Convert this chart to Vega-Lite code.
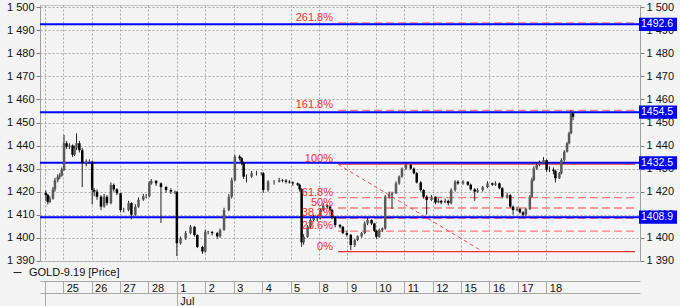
{
  "$schema": "https://vega.github.io/schema/vega-lite/v6.json",
  "width": 600,
  "height": 256,
  "autosize": {"type": "none"},
  "padding": {"left": 40, "top": 5, "right": 40, "bottom": 45},
  "background": "#f4f4f4",
  "config": {
    "view": {"stroke": "#c4c4c4", "fill": "#f4f4f4"},
    "font": "Liberation Sans",
    "axis": {"labelFont": "Liberation Sans", "labelFontSize": 11, "labelColor": "#111111"}
  },
  "datasets": {
    "bars": [
      {"t":0.39,"o":1419.5,"h":1420.5,"l":1416,"c":1418.5},
      {"t":0.46,"o":1418.5,"h":1419,"l":1414.5,"c":1415.5},
      {"t":0.53,"o":1415.5,"h":1418,"l":1415,"c":1417},
      {"t":0.64,"o":1417,"h":1422,"l":1416.5,"c":1421},
      {"t":0.71,"o":1421,"h":1426,"l":1420,"c":1425},
      {"t":0.81,"o":1425,"h":1427.5,"l":1424,"c":1426.5},
      {"t":0.88,"o":1426.5,"h":1428,"l":1425.5,"c":1427},
      {"t":0.95,"o":1427,"h":1430.5,"l":1426.5,"c":1429.4},
      {"t":1.03,"o":1429.4,"h":1444.6,"l":1429,"c":1441},
      {"t":1.12,"o":1441,"h":1442,"l":1438.5,"c":1439.5},
      {"t":1.22,"o":1439.5,"h":1441,"l":1438.5,"c":1440},
      {"t":1.33,"o":1440,"h":1440.5,"l":1435,"c":1436},
      {"t":1.40,"o":1436,"h":1440,"l":1435.5,"c":1439},
      {"t":1.47,"o":1439,"h":1445.3,"l":1438,"c":1441},
      {"t":1.57,"o":1441,"h":1442,"l":1437,"c":1438},
      {"t":1.67,"o":1438,"h":1439,"l":1422,"c":1432.4},
      {"t":1.81,"o":1432.4,"h":1434,"l":1431,"c":1433},
      {"t":1.92,"o":1433,"h":1434,"l":1432,"c":1433},
      {"t":2.02,"o":1433,"h":1433.5,"l":1414.5,"c":1420.7},
      {"t":2.09,"o":1420.7,"h":1421.5,"l":1418,"c":1420},
      {"t":2.19,"o":1420,"h":1421,"l":1416.5,"c":1417.8},
      {"t":2.33,"o":1417.8,"h":1418.5,"l":1412,"c":1413.5},
      {"t":2.44,"o":1413.5,"h":1419,"l":1413,"c":1417.8},
      {"t":2.54,"o":1417.8,"h":1418.5,"l":1414,"c":1415},
      {"t":2.68,"o":1415,"h":1424,"l":1414.5,"c":1422.9},
      {"t":2.78,"o":1422.9,"h":1423.5,"l":1420,"c":1421},
      {"t":2.89,"o":1421,"h":1421.5,"l":1418.5,"c":1419.3},
      {"t":3.02,"o":1419.3,"h":1419.5,"l":1411,"c":1412},
      {"t":3.13,"o":1412,"h":1413,"l":1411,"c":1412},
      {"t":3.30,"o":1412,"h":1416,"l":1411.5,"c":1415},
      {"t":3.40,"o":1415,"h":1415.5,"l":1408,"c":1410},
      {"t":3.54,"o":1410,"h":1414.5,"l":1409.5,"c":1413.5},
      {"t":3.65,"o":1413.5,"h":1417.5,"l":1413,"c":1416.5},
      {"t":3.82,"o":1416.5,"h":1419,"l":1416,"c":1418},
      {"t":3.92,"o":1418,"h":1419,"l":1417,"c":1418},
      {"t":4.03,"o":1418,"h":1424.5,"l":1417.5,"c":1423.6},
      {"t":4.10,"o":1423.6,"h":1425.5,"l":1423,"c":1424.7},
      {"t":4.27,"o":1424.7,"h":1425,"l":1422.5,"c":1423.6},
      {"t":4.44,"o":1423.6,"h":1424,"l":1406.4,"c":1422},
      {"t":4.62,"o":1422,"h":1422.5,"l":1419.5,"c":1420.7},
      {"t":4.79,"o":1420.7,"h":1421.5,"l":1419,"c":1420},
      {"t":4.93,"o":1420,"h":1420.5,"l":1419,"c":1420},
      {"t":5.00,"o":1420,"h":1420,"l":1392,"c":1397.6},
      {"t":5.13,"o":1397.6,"h":1400.5,"l":1397,"c":1399.8},
      {"t":5.31,"o":1399.8,"h":1403,"l":1399,"c":1402},
      {"t":5.48,"o":1402,"h":1405.5,"l":1401.5,"c":1404.8},
      {"t":5.62,"o":1404.8,"h":1405,"l":1400.5,"c":1401.2},
      {"t":5.72,"o":1401.2,"h":1401.5,"l":1395.5,"c":1396},
      {"t":5.90,"o":1396,"h":1396.5,"l":1393,"c":1394},
      {"t":6.00,"o":1394,"h":1403.5,"l":1393.5,"c":1402.6},
      {"t":6.10,"o":1402.6,"h":1403,"l":1401.5,"c":1402.5},
      {"t":6.24,"o":1402.5,"h":1403,"l":1401,"c":1402},
      {"t":6.42,"o":1402,"h":1402.5,"l":1399.5,"c":1400.6},
      {"t":6.52,"o":1400.6,"h":1404,"l":1400,"c":1403.3},
      {"t":6.66,"o":1403.3,"h":1413,"l":1403,"c":1412},
      {"t":6.83,"o":1412,"h":1419,"l":1411.5,"c":1417.8},
      {"t":6.93,"o":1417.8,"h":1426,"l":1417,"c":1425},
      {"t":7.04,"o":1425,"h":1436,"l":1424.5,"c":1435.2},
      {"t":7.21,"o":1435.2,"h":1436,"l":1433.5,"c":1434.5},
      {"t":7.28,"o":1434.5,"h":1435,"l":1431.5,"c":1432.5},
      {"t":7.35,"o":1432.5,"h":1433,"l":1425.5,"c":1426.5},
      {"t":7.45,"o":1426.5,"h":1427.5,"l":1424,"c":1426.5},
      {"t":7.63,"o":1426.5,"h":1429,"l":1426,"c":1428},
      {"t":7.80,"o":1428,"h":1429,"l":1427,"c":1428},
      {"t":7.97,"o":1428,"h":1428.5,"l":1427,"c":1428},
      {"t":8.04,"o":1428,"h":1428.5,"l":1419.5,"c":1420.7},
      {"t":8.21,"o":1420.7,"h":1425,"l":1420,"c":1424.3},
      {"t":8.42,"o":1424.3,"h":1425,"l":1423,"c":1424.3},
      {"t":8.60,"o":1424.3,"h":1426,"l":1424,"c":1425},
      {"t":8.72,"o":1425,"h":1425.5,"l":1424,"c":1424.8},
      {"t":8.84,"o":1424.8,"h":1425.5,"l":1423.5,"c":1424.3},
      {"t":8.96,"o":1424.3,"h":1425,"l":1423.5,"c":1424},
      {"t":9.08,"o":1424,"h":1424.5,"l":1422.5,"c":1423.6},
      {"t":9.25,"o":1423.6,"h":1424,"l":1422.5,"c":1423},
      {"t":9.32,"o":1423,"h":1423.5,"l":1420,"c":1421},
      {"t":9.39,"o":1421,"h":1421.5,"l":1396,"c":1398},
      {"t":9.46,"o":1398,"h":1401.5,"l":1397,"c":1400.4},
      {"t":9.60,"o":1400.4,"h":1405.5,"l":1400,"c":1404.8},
      {"t":9.70,"o":1404.8,"h":1408.5,"l":1404,"c":1407.7},
      {"t":9.81,"o":1407.7,"h":1410,"l":1407,"c":1408.5},
      {"t":9.94,"o":1408.5,"h":1409.5,"l":1407,"c":1408.5},
      {"t":10.05,"o":1408.5,"h":1412.5,"l":1408,"c":1412},
      {"t":10.15,"o":1412,"h":1415,"l":1411.5,"c":1414},
      {"t":10.29,"o":1414,"h":1414.5,"l":1412.5,"c":1413.5},
      {"t":10.39,"o":1413.5,"h":1414,"l":1411.5,"c":1412},
      {"t":10.46,"o":1412,"h":1412.5,"l":1408,"c":1408.9},
      {"t":10.57,"o":1408.9,"h":1409.5,"l":1404.5,"c":1405.5},
      {"t":10.74,"o":1405.5,"h":1406,"l":1404,"c":1404.8},
      {"t":10.84,"o":1404.8,"h":1405,"l":1401.5,"c":1402},
      {"t":10.98,"o":1402,"h":1403,"l":1400.5,"c":1401.3},
      {"t":11.12,"o":1401.3,"h":1401.5,"l":1394.6,"c":1396.8},
      {"t":11.26,"o":1396.8,"h":1399.5,"l":1396,"c":1399},
      {"t":11.36,"o":1399,"h":1401,"l":1398.5,"c":1400.6},
      {"t":11.50,"o":1400.6,"h":1402.5,"l":1400,"c":1402},
      {"t":11.61,"o":1402,"h":1407,"l":1401.5,"c":1406.2},
      {"t":11.71,"o":1406.2,"h":1408.5,"l":1405.5,"c":1407.7},
      {"t":11.85,"o":1407.7,"h":1408,"l":1405.5,"c":1406.2},
      {"t":11.95,"o":1406.2,"h":1406.5,"l":1402.5,"c":1403},
      {"t":12.02,"o":1403,"h":1403.5,"l":1399.5,"c":1400.4},
      {"t":12.12,"o":1400.4,"h":1404,"l":1400,"c":1403.3},
      {"t":12.23,"o":1403.3,"h":1404.5,"l":1402.5,"c":1404},
      {"t":12.33,"o":1404,"h":1418.5,"l":1403.5,"c":1417.8},
      {"t":12.47,"o":1417.8,"h":1420,"l":1417,"c":1418.5},
      {"t":12.57,"o":1418.5,"h":1420,"l":1412.5,"c":1419.3},
      {"t":12.71,"o":1419.3,"h":1424.5,"l":1419,"c":1423.6},
      {"t":12.82,"o":1423.6,"h":1427,"l":1423,"c":1426.5},
      {"t":12.92,"o":1426.5,"h":1430.5,"l":1426,"c":1430},
      {"t":13.06,"o":1430,"h":1432.3,"l":1429.5,"c":1431.6},
      {"t":13.23,"o":1431.6,"h":1432,"l":1429.5,"c":1430},
      {"t":13.34,"o":1430,"h":1430.5,"l":1427.5,"c":1428},
      {"t":13.44,"o":1428,"h":1428.5,"l":1423.5,"c":1424},
      {"t":13.58,"o":1424,"h":1424.5,"l":1420,"c":1420.7},
      {"t":13.68,"o":1420.7,"h":1421,"l":1417,"c":1417.8},
      {"t":13.79,"o":1417.8,"h":1418.5,"l":1410,"c":1416.4},
      {"t":13.96,"o":1416.4,"h":1418.5,"l":1416,"c":1417.8},
      {"t":14.10,"o":1417.8,"h":1418,"l":1414.5,"c":1415.3},
      {"t":14.20,"o":1415.3,"h":1417,"l":1415,"c":1416},
      {"t":14.30,"o":1416,"h":1416.5,"l":1414.5,"c":1415.3},
      {"t":14.44,"o":1415.3,"h":1417,"l":1415,"c":1416},
      {"t":14.55,"o":1416,"h":1416.5,"l":1414,"c":1415},
      {"t":14.65,"o":1415,"h":1421.5,"l":1414.5,"c":1420.7},
      {"t":14.79,"o":1420.7,"h":1425,"l":1420,"c":1424.3},
      {"t":14.89,"o":1424.3,"h":1425,"l":1423,"c":1423.6},
      {"t":15.07,"o":1423.6,"h":1425,"l":1423,"c":1424.3},
      {"t":15.24,"o":1424.3,"h":1424.5,"l":1422.5,"c":1423},
      {"t":15.34,"o":1423,"h":1423.5,"l":1420.5,"c":1421},
      {"t":15.48,"o":1421,"h":1421.5,"l":1416,"c":1420},
      {"t":15.58,"o":1420,"h":1421.5,"l":1419.5,"c":1420.7},
      {"t":15.76,"o":1420.7,"h":1422.5,"l":1420,"c":1422},
      {"t":15.93,"o":1422,"h":1424.5,"l":1421.5,"c":1423.6},
      {"t":16.10,"o":1423.6,"h":1424,"l":1422.5,"c":1423},
      {"t":16.21,"o":1423,"h":1424.5,"l":1422.5,"c":1423.6},
      {"t":16.35,"o":1423.6,"h":1424,"l":1421,"c":1421.5},
      {"t":16.45,"o":1421.5,"h":1422,"l":1417,"c":1417.8},
      {"t":16.62,"o":1417.8,"h":1419.5,"l":1417,"c":1418.5},
      {"t":16.73,"o":1418.5,"h":1419,"l":1413,"c":1413.5},
      {"t":16.83,"o":1413.5,"h":1414,"l":1410,"c":1412},
      {"t":16.97,"o":1412,"h":1413.5,"l":1411.5,"c":1412.5},
      {"t":17.07,"o":1412.5,"h":1413,"l":1410.5,"c":1411},
      {"t":17.18,"o":1411,"h":1411.5,"l":1409,"c":1410},
      {"t":17.28,"o":1410,"h":1413,"l":1409.5,"c":1412.5},
      {"t":17.42,"o":1412.5,"h":1418.5,"l":1412,"c":1417.8},
      {"t":17.49,"o":1417.8,"h":1426,"l":1417.5,"c":1425},
      {"t":17.56,"o":1425,"h":1431,"l":1424.5,"c":1430},
      {"t":17.66,"o":1430,"h":1432.5,"l":1429.5,"c":1431.6},
      {"t":17.76,"o":1431.6,"h":1433.5,"l":1431,"c":1432.5},
      {"t":17.90,"o":1432.5,"h":1435,"l":1432,"c":1433.7},
      {"t":18.01,"o":1433.7,"h":1434,"l":1428.5,"c":1429.5},
      {"t":18.11,"o":1429.5,"h":1431,"l":1428.5,"c":1429.5},
      {"t":18.25,"o":1429.5,"h":1430.5,"l":1427.5,"c":1429},
      {"t":18.32,"o":1429,"h":1429.5,"l":1424,"c":1425.8},
      {"t":18.46,"o":1425.8,"h":1428.5,"l":1425.5,"c":1428},
      {"t":18.53,"o":1428,"h":1434.5,"l":1427.5,"c":1433.7},
      {"t":18.63,"o":1433.7,"h":1438,"l":1433,"c":1437.3},
      {"t":18.73,"o":1437.3,"h":1441.5,"l":1437,"c":1441},
      {"t":18.80,"o":1441,"h":1446,"l":1440.5,"c":1445.3},
      {"t":18.87,"o":1445.3,"h":1455.4,"l":1445,"c":1454},
      {"t":18.94,"o":1454,"h":1454.5,"l":1451,"c":1452.5}
    ],
    "fib": [
      {"pct":0,"label":"0%","v":1394.0},
      {"pct":23.6,"label":"23.6%","v":1402.9},
      {"pct":38.2,"label":"38.2%","v":1408.4},
      {"pct":50,"label":"50%","v":1412.9},
      {"pct":61.8,"label":"61.8%","v":1417.4},
      {"pct":100,"label":"100%","v":1431.9},
      {"pct":161.8,"label":"161.8%","v":1455.3},
      {"pct":261.8,"label":"261.8%","v":1493.2}
    ],
    "levels": [
      {"v":1492.6},
      {"v":1454.5},
      {"v":1432.5},
      {"v":1408.9}
    ],
    "trend": [
      {"t0":10.67,"v0":1431.9,"t1":15.76,"v1":1394.0}
    ]
  },
  "layer": [
    {
      "data": {"name": "fib"},
      "mark": {"type": "rule", "strokeWidth": 1.3},
      "encoding": {
        "x": {"datum": 10.67, "type": "quantitative", "scale": {"domain": [0.36, 21.12], "nice": false, "zero": false}, "axis": null},
        "x2": {"datum": 21.12},
        "y": {"field": "v", "type": "quantitative", "scale": {"domain": [1389.9, 1501], "nice": false, "zero": false}, "axis": null},
        "color": {"condition": {"test": "datum.pct == 0 || datum.pct == 100", "value": "#f03030"}, "value": "#ff7a7a"},
        "strokeDash": {"condition": {"test": "datum.pct == 0 || datum.pct == 100", "value": [1, 0]}, "value": [8, 4]}
      }
    },
    {
      "data": {"name": "trend"},
      "mark": {"type": "rule", "strokeWidth": 1, "color": "#f05050", "strokeDash": [4, 3]},
      "encoding": {
        "x": {"field": "t0", "type": "quantitative", "scale": {"domain": [0.36, 21.12], "nice": false, "zero": false}, "axis": null},
        "x2": {"field": "t1"},
        "y": {"field": "v0", "type": "quantitative", "scale": {"domain": [1389.9, 1501], "nice": false, "zero": false}, "axis": null},
        "y2": {"field": "v1"}
      }
    },
    {
      "data": {"name": "levels"},
      "mark": {"type": "rule", "color": "#0000ff", "strokeWidth": 2},
      "encoding": {
        "y": {"field": "v", "type": "quantitative", "scale": {"domain": [1389.9, 1501], "nice": false, "zero": false}, "axis": null}
      }
    },
    {
      "data": {"name": "bars"},
      "mark": {"type": "rule", "strokeWidth": 1},
      "encoding": {
        "x": {"field": "t", "type": "quantitative", "scale": {"domain": [0.36, 21.12], "nice": false, "zero": false},
          "axis": {"orient": "bottom", "offset": 20, "values": [0.36,1,2,3,4,5,6,7,8,9,10,11,12,13,14,15,16,17,18],
            "grid": true, "gridColor": "#a8a8a8", "gridDash": [2, 2],
            "domainColor": "#a8a8a8", "tickColor": "#a8a8a8", "tickSize": 12,
            "labelAlign": "left", "labelBaseline": "top", "labelPadding": -11, "labelOffset": 3,
            "labelFlush": false, "labelOverlap": false, "labelBound": false,
            "labelExpr": "datum.value < 1 ? '' : ['24','25','26','27','28','1','2','3','4','5','8','9','10','11','12','15','16','17','18'][datum.value]",
            "title": null}},
        "y": {"field": "l", "type": "quantitative", "scale": {"domain": [1389.9, 1501], "nice": false, "zero": false},
          "axis": {"orient": "left", "values": [1390,1400,1410,1420,1430,1440,1450,1460,1470,1480,1490,1500],
            "grid": true, "gridColor": "#a8a8a8", "gridDash": [2, 2], "tickSize": 4, "tickColor": "#808080",
            "domainColor": "#a0a0a0", "labelPadding": 2,
            "labelExpr": "replace(format(datum.value, ','), ',', ' ')", "title": null}},
        "y2": {"field": "h"},
        "color": {"datum": "GOLD-9.19 [Price]", "type": "nominal", "scale": {"range": ["#222222"]},
          "legend": {"orient": "none", "legendX": -28, "legendY": 262, "title": null, "symbolType": "stroke",
            "symbolSize": 64, "symbolStrokeWidth": 1, "labelFontSize": 11, "labelFont": "Liberation Sans",
            "labelColor": "#111111", "padding": 0, "labelOffset": 6}}
      }
    },
    {
      "data": {"name": "bars"},
      "mark": {"type": "bar", "width": 2.5},
      "encoding": {
        "x": {"field": "t", "type": "quantitative", "scale": {"domain": [0.36, 21.12], "nice": false, "zero": false},
          "axis": {"orient": "bottom", "offset": 32, "values": [0.36, 5], "grid": false,
            "domainColor": "#a8a8a8", "tickColor": "#a8a8a8", "tickSize": 13,
            "labelAlign": "left", "labelBaseline": "top", "labelPadding": -11, "labelOffset": 3,
            "labelFlush": false, "labelOverlap": false, "labelBound": false,
            "labelExpr": "datum.value == 5 ? 'Jul' : ''", "title": null}},
        "y": {"field": "o", "type": "quantitative", "scale": {"domain": [1389.9, 1501], "nice": false, "zero": false},
          "axis": {"orient": "right", "values": [1390,1400,1410,1420,1430,1440,1450,1460,1470,1480,1490,1500],
            "grid": false, "tickSize": 4, "tickColor": "#808080", "domainColor": "#a0a0a0", "labelPadding": 2,
            "labelExpr": "replace(format(datum.value, ','), ',', ' ')", "title": null}},
        "y2": {"field": "c"},
        "color": {"condition": {"test": "datum.c >= datum.o", "value": "#5a5a5a"}, "value": "#000000"}
      }
    },
    {
      "data": {"name": "fib"},
      "mark": {"type": "text", "align": "right", "baseline": "alphabetic", "dx": -5, "dy": -2, "fontSize": 11, "color": "#ff2a2a", "font": "Liberation Sans"},
      "encoding": {
        "x": {"datum": 10.67, "type": "quantitative", "scale": {"domain": [0.36, 21.12], "nice": false, "zero": false}, "axis": null},
        "y": {"field": "v", "type": "quantitative", "scale": {"domain": [1389.9, 1501], "nice": false, "zero": false}, "axis": null},
        "text": {"field": "label"}
      }
    },
    {
      "data": {"name": "levels"},
      "mark": {"type": "point", "shape": "M0.2,-0.33L2.1,-0.33L2.1,0.33L0.2,0.33Z", "filled": true, "color": "#0000ff", "opacity": 1, "size": 1600, "clip": false, "strokeWidth": 0},
      "encoding": {
        "x": {"datum": 21.12, "type": "quantitative", "scale": {"domain": [0.36, 21.12], "nice": false, "zero": false}, "axis": null},
        "y": {"field": "v", "type": "quantitative", "scale": {"domain": [1389.9, 1501], "nice": false, "zero": false}, "axis": null}
      }
    },
    {
      "data": {"name": "levels"},
      "mark": {"type": "text", "align": "left", "baseline": "middle", "dx": 6, "color": "#ffffff", "fontSize": 10.5, "font": "Liberation Sans", "clip": false},
      "encoding": {
        "x": {"datum": 21.12, "type": "quantitative", "scale": {"domain": [0.36, 21.12], "nice": false, "zero": false}, "axis": null},
        "y": {"field": "v", "type": "quantitative", "scale": {"domain": [1389.9, 1501], "nice": false, "zero": false}, "axis": null},
        "text": {"field": "v", "type": "quantitative", "format": ".1f"}
      }
    }
  ],
  "resolve": {"axis": {"x": "independent", "y": "independent"}}
}
